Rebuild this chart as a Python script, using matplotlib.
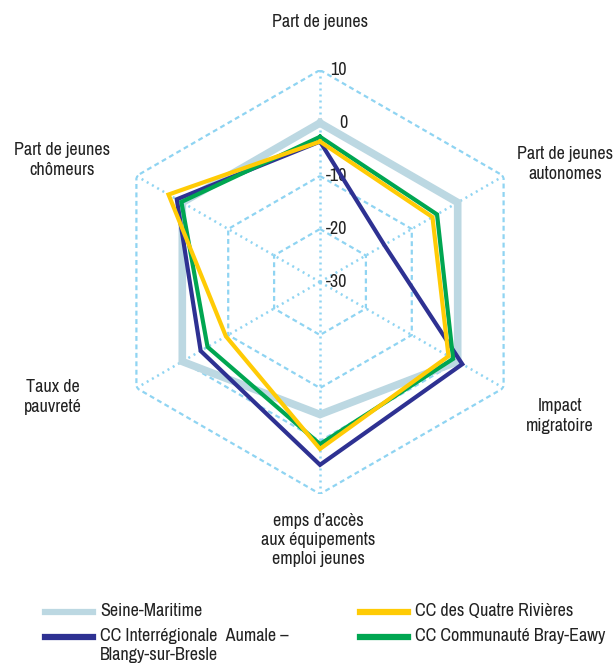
import numpy as np
import matplotlib
matplotlib.use("Agg")
import matplotlib.pyplot as plt
from matplotlib.lines import Line2D
import logging
logging.getLogger('matplotlib.font_manager').setLevel(logging.ERROR)

plt.rcParams['font.family'] = ['Liberation Sans Narrow', 'Archivo Narrow', 'Liberation Sans', 'DejaVu Sans']

# axes clockwise from the top
categories = ["Part de jeunes", "Part de jeunes\nautonomes", "Impact\nmigratoire",
              "emps d\u2019accès\naux équipements\nemploi jeunes", "Taux de\npauvreté",
              "Part de jeunes\nchômeurs"]
ticks = [10, 0, -10, -20, -30]

seine = [0, 0, 0, -5, 0, 0]
aumale = [-3.5, -16, 1, 4.5, -4, 1.2]
quatre = [-3.5, -5.5, -2, 1.5, -9.5, 3]
bray = [-2.6, -4.5, -1, 0.6, -5.5, 0.2]

names = ["Seine-Maritime", "CC Interrégionale  Aumale \u2013\nBlangy-sur-Bresle",
         "CC des Quatre Rivières", "CC Communauté Bray-Eawy"]
colors = ["#bcd8e2", "#2e3192", "#ffcb05", "#00a651"]
grid_c = "#8fd4f2"

W, H = 615, 668
fig = plt.figure(figsize=(W/100, H/100), dpi=100)
cx, cy, R = 320, 282, 212
ax = fig.add_axes([(cx-R)/W, (H-cy-R)/H, 2*R/W, 2*R/H], projection='polar')
ax.set_theta_offset(np.pi/2)
ax.set_theta_direction(-1)
ax.set_ylim(-30, 10)
ax.grid(False)
ax.set_xticks([])
ax.set_yticks([])
ax.spines['polar'].set_visible(False)
ax.patch.set_alpha(0)

n = len(categories)
ang = np.arange(n) * 2*np.pi/n
closed = np.append(ang, ang[0])

# grid: hexagons and spokes
for t in ticks[:-1]:
    ax.plot(closed, [t]*(n+1), color=grid_c, lw=1.6, ls=(0, (2.2, 1.6)), zorder=1)
for a in ang:
    ax.plot([a, a], [-30, 10], color=grid_c, lw=1.8, ls=(0, (0.8, 1.6)), zorder=1)
for t in ticks:
    ax.annotate(str(t), xy=(0, t), xytext=(19.5, 0), textcoords='offset points',
                ha='right', va='center', fontsize=13, color='#222222', zorder=2)

series = [seine, aumale, bray, quatre]
cols = [colors[0], colors[1], colors[3], colors[2]]
widths = [5.5, 3, 3, 3]
for vals, c, w in zip(series, cols, widths):
    ax.plot(closed, np.append(vals, vals[0]), color=c, lw=w, zorder=3,
            solid_joinstyle='miter')

# category labels
lab_pos = [(320, 22), (565, 164), (560, 416), (318, 540), (53, 397), (62, 160)]
for lab, (x, y) in zip(categories, lab_pos):
    fig.text(x/W, 1 - y/H, lab, ha='center', va='center', fontsize=13,
             color='#222222', linespacing=1.25)

# legend
leg = [(45, 612, names[0], colors[0]), (45, 637, names[1], colors[1]),
       (360, 612, names[2], colors[2]), (360, 637, names[3], colors[3])]
for x, y, lab, c in leg:
    fig.add_artist(Line2D([x/W, (x+48)/W], [1-y/H, 1-y/H], color=c, lw=4.5,
                          transform=fig.transFigure))
    fig.text((x+55)/W, 1-(y-9)/H, lab, ha='left', va='top', fontsize=13,
             color='#222222', linespacing=1.2)

fig.savefig("out.png", dpi=100)
